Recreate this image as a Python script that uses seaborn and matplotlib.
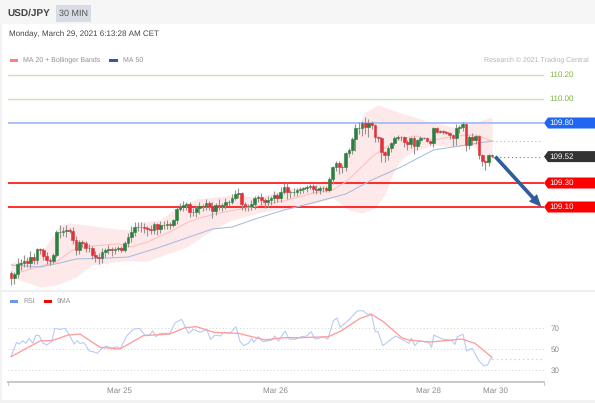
import numpy as np
import pandas as pd
import seaborn as sns
import matplotlib.pyplot as plt
from matplotlib.patches import Rectangle

# candle data, one close per 30 min bar
first_open = 108.548
closes = [108.508, 108.542, 108.625, 108.633, 108.650, 108.633, 108.683, 108.658, 108.750, 108.742,
          108.692, 108.658, 108.650, 108.700, 108.892, 108.892, 108.900, 108.908, 108.900, 108.825,
          108.742, 108.808, 108.800, 108.758, 108.758, 108.700, 108.683, 108.675, 108.725, 108.742,
          108.750, 108.742, 108.750, 108.758, 108.742, 108.800, 108.850, 108.892, 108.933, 108.933,
          108.933, 108.925, 108.917, 108.908, 108.958, 108.917, 108.950, 108.950, 108.958, 108.950,
          108.992, 109.083, 109.100, 109.117, 109.125, 109.058, 109.058, 109.092, 109.108, 109.108,
          109.133, 109.108, 109.067, 109.117, 109.108, 109.117, 109.142, 109.142, 109.175, 109.208,
          109.217, 109.125, 109.108, 109.108, 109.125, 109.175, 109.183, 109.158, 109.142, 109.158,
          109.175, 109.200, 109.175, 109.225, 109.267, 109.225, 109.225, 109.225, 109.242, 109.250,
          109.258, 109.267, 109.275, 109.250, 109.242, 109.258, 109.258, 109.242, 109.333, 109.433,
          109.467, 109.433, 109.433, 109.550, 109.575, 109.667, 109.758, 109.758, 109.800, 109.767,
          109.800, 109.783, 109.683, 109.675, 109.558, 109.533, 109.592, 109.633, 109.675, 109.683,
          109.683, 109.642, 109.625, 109.675, 109.608, 109.658, 109.675, 109.675, 109.650, 109.633,
          109.758, 109.725, 109.733, 109.725, 109.717, 109.700, 109.675, 109.758, 109.767, 109.792,
          109.617, 109.683, 109.658, 109.692, 109.533, 109.483, 109.475, 109.533, 109.525]
wick_up = [.02, .02, .05, .03, .05, .03, .05, .03, .01, .01,
           .02, .03, .02, .02, .02, .06, .03, .04, .02, .03,
           .03, .02, .02, .02, .03, .02, .03, .03, .03, .02,
           .03, .02, .02, .02, .02, .02, .03, .05, .04, .04,
           .04, .03, .02, .03, .02, .01, .03, .03, .03, .02,
           .01, .02, .03, .03, .02, .02, .03, .02, .03, .02,
           .03, .02, .03, .02, .05, .02, .03, .02, .03, .03,
           .04, .01, .02, .02, .03, .02, .02, .03, .02, .03,
           .02, .03, .02, .04, .03, .03, .02, .03, .02, .02,
           .01, .02, .02, .02, .03, .02, .02, .02, .02, .01,
           .02, .02, .02, .01, .02, .02, .03, .05, .02, .05,
           .03, .02, .01, .01, .01, .01, .02, .01, .02, .02,
           .01, .01, .02, .01, .02, .01, .02, .01, .01, .01,
           .01, .01, .01, .01, .01, .01, .01, .03, .02, .02,
           .01, .02, .03, .01, .01, .01, .01, .01, .01]
wick_down = [.06, .05, .03, .05, .03, .03, .04, .03, .03, .03,
             .03, .03, .03, .02, .02, .05, .03, .05, .02, .03,
             .04, .03, .03, .03, .03, .03, .04, .05, .04, .04,
             .03, .05, .03, .02, .02, .02, .03, .04, .03, .03,
             .04, .04, .06, .03, .03, .05, .03, .03, .03, .03,
             .02, .03, .02, .03, .04, .04, .03, .04, .05, .04,
             .03, .03, .06, .03, .03, .04, .03, .03, .02, .02,
             .03, .05, .04, .04, .03, .04, .03, .04, .05, .04,
             .04, .04, .03, .03, .02, .06, .05, .03, .03, .03,
             .03, .03, .02, .03, .03, .03, .03, .02, .02, .04,
             .03, .06, .05, .03, .03, .03, .10, .05, .07, .06,
             .08, .03, .04, .03, .08, .06, .04, .03, .02, .02,
             .03, .04, .05, .03, .07, .03, .03, .01, .01, .02,
             .03, .01, .01, .02, .01, .03, .07, .06, .04, .03,
             .05, .03, .04, .03, .03, .04, .07, .03, .01]

# moving averages and bands, read at the bends of each curve
upper_x = [0, 7, 10, 15, 18, 23, 30, 36, 40, 46, 51, 57, 68, 76, 84, 93, 98, 103, 107, 109, 113, 120, 130, 138, 143, 148]
upper_band = [108.633, 108.683, 108.742, 108.950, 108.967, 108.950, 108.925, 108.908, 108.975, 108.992, 109.100, 109.167, 109.200,
              109.183, 109.242, 109.283, 109.325, 109.517, 109.767, 109.892, 109.950, 109.883, 109.800, 109.758, 109.808, 109.850]
lower_x = [0, 9, 14, 20, 25, 34, 42, 47, 54, 62, 68, 77, 85, 89, 99, 104, 108, 112, 115, 118, 120, 123, 130, 137, 142, 144, 148]
lower_band = [108.517, 108.433, 108.450, 108.517, 108.617, 108.650, 108.650, 108.700, 108.767, 108.908, 108.992, 109.058, 109.092, 109.100,
              109.175, 109.075, 109.050, 109.092, 109.200, 109.408, 109.492, 109.558, 109.617, 109.600, 109.617, 109.558, 109.450]
ma20_x = [2, 7, 14, 19, 25, 33, 37, 42, 50, 54, 58, 64, 74, 84, 93, 99, 103, 106, 111, 114, 119, 124, 130, 135, 140, 143, 148]
ma20 = [108.550, 108.592, 108.642, 108.742, 108.775, 108.792, 108.767, 108.808, 108.908, 108.967, 109.008, 109.050, 109.100, 109.150,
        109.217, 109.242, 109.308, 109.383, 109.517, 109.575, 109.658, 109.692, 109.658, 109.683, 109.700, 109.700, 109.650]
ma50_x = [0, 9, 15, 20, 30, 36, 45, 54, 62, 68, 76, 84, 89, 103, 111, 120, 130, 140, 148]
ma50 = [108.617, 108.600, 108.633, 108.667, 108.675, 108.683, 108.758, 108.842, 108.917, 108.933, 109.008, 109.075, 109.108,
        109.208, 109.325, 109.433, 109.575, 109.617, 109.650]

# RSI panel
rsi_x = [0, 1.7, 2.6, 3.6, 4.6, 5.6, 6.7, 7.7, 8.7, 9.7, 11, 12.5, 13.5, 15.1, 16.6, 17.6, 19.4, 20.4, 21.2, 22.5,
         24.1, 25.3, 26.6, 27.9, 29.4, 31, 32.5, 33.7, 35.6, 37.6, 39.5, 41.2, 42.6, 43.6, 44.6, 45.8, 48.9, 50.5, 52.5, 54.6,
         56.1, 58.2, 60.2, 61.4, 62.8, 64.5, 65.3, 67.4, 69.2, 70.5, 71.7, 73, 74.1, 74.6, 76.1, 77.6, 80.2, 81.2, 82.3, 84.3,
         85.6, 87.4, 89.4, 91, 92.3, 93.6, 94.8, 96.1, 97.5, 99.2, 100.3, 101.3, 103.9, 106.5, 108.3, 109.5, 110.9, 112.1, 112.9, 114.4,
         118.3, 120.3, 122.4, 123.2, 124.3, 125.5, 128.5, 129.4, 130.1, 132.7, 135.8, 136.6, 137.3, 139.1, 140.2, 141.9, 144, 145.5, 146.6, 147.6, 148]
rsi = [42.4, 56.0, 54.4, 57.6, 55.1, 59.8, 55.1, 63.0, 62.4, 55.7, 53.5, 56.7, 69.4, 68.4, 69.4, 65.2, 54.4, 57.6, 55.1, 55.7,
       47.8, 47.1, 45.6, 50.3, 52.5, 50.3, 51.9, 50.3, 62.1, 68.4, 69.4, 63.0, 63.0, 67.1, 61.4, 64.6, 64.6, 74.8, 77.9, 64.6,
       68.4, 65.6, 68.4, 58.9, 63.0, 62.1, 65.6, 64.6, 71.0, 56.7, 52.9, 55.1, 59.8, 56.0, 61.4, 56.7, 58.3, 62.1, 57.3, 66.8,
       59.2, 58.9, 61.4, 62.1, 66.2, 59.2, 59.8, 61.4, 59.2, 76.7, 79.2, 70.3, 77.3, 85.9, 86.2, 83.0, 83.0, 66.2, 66.2, 52.9,
       62.1, 58.9, 55.1, 59.8, 52.9, 57.6, 56.0, 51.3, 63.0, 59.2, 57.6, 54.1, 61.4, 63.7, 47.8, 50.3, 38.3, 33.8, 34.4, 40.8, 40.2]
ma9_x = [0, 9.1, 12.5, 17.6, 21.2, 27.4, 33.5, 40.7, 48.9, 53.5, 57.1, 62.3, 70, 78.2, 83.8, 88.9, 97.6, 101.7, 107.4, 111, 114.6, 120.2, 122.3, 128.9, 138.7, 142.8, 148]
ma9 = [42.4, 57.6, 57.6, 63.0, 64.0, 51.3, 49.7, 62.4, 64.0, 70.0, 71.0, 65.6, 64.6, 58.3, 60.5, 60.5, 61.4, 67.1, 78.9, 82.7, 75.7, 60.5, 58.3, 56.3, 59.2, 55.1, 41.7]

level_values = [110.20, 110.00, 109.80, 109.30, 109.10]
level_colors = ['#c8e4ab', '#c8e4ab', '#a4bcf4', '#ff0000', '#ff0000']
level_widths = [1.0, 1.0, 1.3, 1.15, 1.15]
last_price = 109.52
target_price = 109.10
ma_last = 109.65
rsi_last = 40.2
rsi_levels = [70, 50, 30]
date_ticks = [33.5, 81.5, 128.3, 149]
date_labels = ['Mar 25', 'Mar 26', 'Mar 28', 'Mar 30']

sns.set_theme(style='white')
plt.rcParams['font.family'] = ['Liberation Sans', 'DejaVu Sans']
plt.rcParams['text.hinting'] = 'no_hinting'
plt.rcParams['text.hinting_factor'] = 1

W, H = 595, 403
fig = plt.figure(figsize=(W / 100, H / 100), dpi=100, facecolor='white')


def px_axes(x0, y0, x1, y1):
    return fig.add_axes([x0 / W, 1 - y1 / H, (x1 - x0) / W, (y1 - y0) / H])


# page furniture in pixel coordinates
bg = fig.add_axes([0, 0, 1, 1], zorder=0)
bg.set_xlim(0, W)
bg.set_ylim(H, 0)
bg.axis('off')
bg.add_patch(Rectangle((0, 0), W, 24, color='#f6f6f6', lw=0))
bg.add_patch(Rectangle((56, 5), 35, 17, color='#d8dce4', lw=0))
bg.add_patch(Rectangle((0, 290), W, 1.5, color='#f0f0f0', lw=0))
bg.add_patch(Rectangle((0, 400), W, 3, color='#f2f2f2', lw=0))
bg.add_patch(Rectangle((0, 24), 1.5, H, color='#f2f2f2', lw=0))
bg.text(7.5, 13.5, 'USD/JPY', fontsize=7.3, fontweight='bold', color='#444444', va='center')
bg.text(73.5, 13.5, '30 MIN', fontsize=6.2, color='#555555', va='center', ha='center')
bg.text(9, 34, 'Monday, March 29, 2021 6:13:28 AM CET', fontsize=5.9, color='#444444', va='center')
bg.add_patch(Rectangle((10, 58.5), 8, 3, color='#ff7f7f', lw=0))
bg.text(23, 60, 'MA 20 + Bollinger Bands', fontsize=5.2, color='#8f8f8f', va='center')
bg.add_patch(Rectangle((109, 58.5), 9, 3, color='#2f5d9b', lw=0))
bg.text(123, 60, 'MA 50', fontsize=5.2, color='#8f8f8f', va='center')
bg.text(589, 60, 'Research © 2021 Trading Central', fontsize=5.2, color='#b4b4b4', va='center', ha='right')
bg.add_patch(Rectangle((10, 300), 8, 3, color='#6f94ec', lw=0))
bg.text(23, 301.5, 'RSI', fontsize=5.2, color='#8f8f8f', va='center')
bg.add_patch(Rectangle((44, 300), 8, 3, color='#ff0000', lw=0))
bg.text(57, 301.5, '9MA', fontsize=5.2, color='#8f8f8f', va='center')

# price panel: bar i sits at 11 + 3.25 i px, 120 px per 1.00
ax = px_axes(8, 65, 544, 290)
ax.set_zorder(1)
ax.patch.set_alpha(0)
ax.set_xlim(-3 / 3.25, 533 / 3.25)
ax.set_ylim(110.825 - 290 / 120, 110.825 - 65 / 120)
ax.axis('off')

fill_x = np.arange(0, 149)
ax.fill_between(fill_x, np.interp(fill_x, lower_x, lower_band), np.interp(fill_x, upper_x, upper_band),
                color='#fde9e9', lw=0, zorder=1)

for level, color, width in zip(level_values, level_colors, level_widths):
    ax.axhline(level, color=color, lw=width, zorder=2)

sns.lineplot(x=ma20_x, y=ma20, ax=ax, color='#ffbcbc', lw=0.7, zorder=3)
sns.lineplot(x=ma50_x, y=ma50, ax=ax, color='#a9bbdc', lw=0.75, zorder=3)

candles = pd.DataFrame({'close': closes, 'up': wick_up, 'down': wick_down})
candles['bar'] = candles.index
candles['open'] = candles['close'].shift(1).fillna(first_open)
candles['top'] = candles[['open', 'close']].max(axis=1)
candles['bottom'] = candles[['open', 'close']].min(axis=1)
body_colors = np.where(candles['close'] >= candles['open'], '#2a8040', '#e0323a')
ax.vlines(candles['bar'], candles['bottom'] - candles['down'], candles['top'] + candles['up'],
          color='#9a9090', lw=0.8, zorder=4)
ax.bar(candles['bar'], candles['top'] - candles['bottom'], bottom=candles['bottom'], width=0.8,
       color=body_colors, edgecolor=body_colors, lw=0.4, zorder=5)

ax.plot([148, 163.5], [ma_last, ma_last], ls=(0, (1, 2.5)), color='#a9b8d4', lw=0.8)
ax.plot([148, 163.5], [last_price, last_price], ls=(0, (1, 2.5)), color='#777777', lw=0.8)
ax.annotate('', xy=(163.2, target_price), xytext=(149, last_price), zorder=6,
            arrowprops=dict(arrowstyle='simple,head_width=0.65,head_length=0.75,tail_width=0.22',
                            color='#2f5d9b', lw=0, shrinkA=0, shrinkB=0))


# value tags on the right of each level
def price_tag(price, text, fill, text_color='white'):
    y_px = (110.825 - price) * 120
    bg.fill([544, 548, 595, 595, 548], [y_px, y_px - 5.5, y_px - 5.5, y_px + 5.5, y_px + 5.5], color=fill, lw=0)
    bg.text(561.5, y_px + 0.2, text, fontsize=6.0, color=text_color, va='center', ha='center')


price_tag(109.80, '109.80', '#1f66f0')
price_tag(109.52, '109.52', '#333333')
price_tag(109.30, '109.30', '#ff0000')
price_tag(109.10, '109.10', '#ff0000')
for level in [110.20, 110.00]:
    bg.text(561.5, (110.825 - level) * 120, f'{level:.2f}', fontsize=6.1, color='#7cb342', va='center', ha='center')

# RSI panel
ax_rsi = px_axes(8, 295, 544, 382)
ax_rsi.set_zorder(1)
ax_rsi.patch.set_alpha(0)
ax_rsi.set_xlim(-3 / 3.25, 533 / 3.25)
ax_rsi.set_ylim(50 + (348.7 - 382) / 1.05, 50 + (348.7 - 295) / 1.05)
for lev in rsi_levels:
    ax_rsi.axhline(lev, ls=(0, (1, 2.5)), color='#d0d0d0', lw=0.7, zorder=1)
sns.lineplot(x=rsi_x, y=rsi, ax=ax_rsi, color='#b8cbf5', lw=0.8, zorder=2)
sns.lineplot(x=ma9_x, y=ma9, ax=ax_rsi, color='#ff9c9c', lw=0.95, zorder=3)
ax_rsi.plot([148, 163.5], [rsi_last, rsi_last], ls=(0, (1, 2.5)), color='#b8cbf5', lw=0.9)

sns.despine(ax=ax_rsi, left=True, right=True, top=True)
ax_rsi.spines['bottom'].set_color('#c8c8c8')
ax_rsi.spines['bottom'].set_linewidth(1.4)
ax_rsi.set_xticks(date_ticks)
ax_rsi.set_xticklabels(date_labels, fontsize=5.9, color='#8a8a8a')
ax_rsi.tick_params(axis='x', length=0, pad=4)
ax_rsi.yaxis.tick_right()
ax_rsi.set_yticks(rsi_levels)
ax_rsi.set_yticklabels([str(v) for v in rsi_levels], fontsize=5.9, color='#8a8a8a')
ax_rsi.tick_params(axis='y', length=0, pad=5)
ax_rsi.grid(False)
bg.plot([8, 8], [382, 385], color='#c8c8c8', lw=0.8)
bg.plot([544, 544], [382, 385], color='#c8c8c8', lw=0.8)

fig.savefig('out.png', dpi=100)
plt.close(fig)
